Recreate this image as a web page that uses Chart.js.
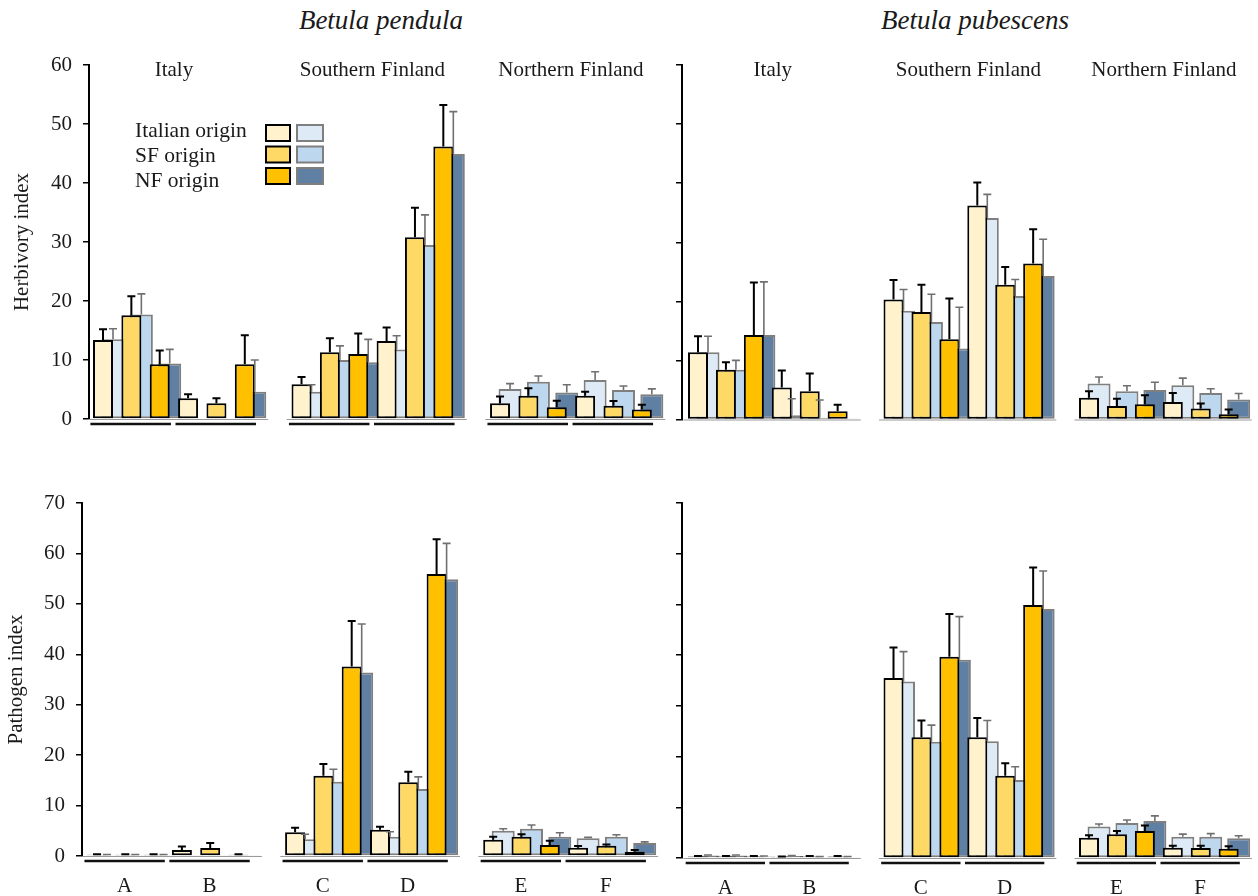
<!DOCTYPE html>
<html>
<head>
<meta charset="utf-8">
<script src="https://cdn.jsdelivr.net/npm/chart.js@4.4.1/dist/chart.umd.min.js"></script>
<style>
  body { margin: 0; background: #fff; }
  #wrap { position: relative; width: 1258px; height: 896px; overflow: hidden;
          font-family: "Liberation Serif", "Times New Roman", serif; color: #1a1a1a; }
  canvas { position: absolute; }
  .title { position: absolute; top: 5px; font-style: italic; font-size: 27px;
           transform: translateX(-50%); white-space: nowrap; }
</style>
</head>
<body>
<div id="wrap">
  <div class="title" style="left:381px">Betula pendula</div>
  <div class="title" style="left:975px">Betula pubescens</div>
  <canvas id="tl"></canvas>
  <canvas id="tr"></canvas>
  <canvas id="bl"></canvas>
  <canvas id="br"></canvas>
</div>
<script>
// categorias
const sites = ['Italy', 'Southern Finland', 'Northern Finland'];
const groups = ['A', 'B', 'C', 'D', 'E', 'F'];
const origins = ['Italian origin', 'SF origin', 'NF origin'];
const yellowFill = ['#FFF2CC', '#FFD966', '#FFC000'];
const blueFill = ['#DEEBF7', '#BDD7EE', '#5F7FA3'];
const herbTicks = [0, 10, 20, 30, 40, 50, 60];
const pathTicks = [0, 10, 20, 30, 40, 50, 60, 70];

// Betula pendula - herbivory (A..F, 3 origins each)
const pendHerbYellow = [13.4, 17.6, 9.3, 3.5, 2.65, 9.3, 5.9, 11.3, 11.0, 13.2, 30.8, 46.2, 2.65, 3.95, 2.0, 3.95, 2.25, 1.6];
const pendHerbYellowSe = [1.8, 3.2, 2.3, 0.7, 0.85, 4.9, 1.2, 2.4, 3.5, 2.3, 5.0, 7.0, 1.15, 1.25, 1.1, 0.65, 0.8, 0.8];
const pendHerbBlue = [13.5, 17.7, 9.4, 0, 0, 4.6, 4.6, 10.0, 9.6, 11.8, 29.5, 44.9, 5.1, 6.3, 4.5, 6.6, 4.9, 4.2];
const pendHerbBlueSe = [1.8, 3.5, 2.4, 0, 0, 5.4, 1.2, 2.4, 3.9, 2.3, 5.1, 7.2, 0.9, 1.0, 1.3, 1.4, 0.7, 0.9];

// Betula pubescens - herbivory
const pubHerbYellow = [11.4, 8.4, 14.3, 5.4, 4.8, 1.4, 20.3, 18.2, 13.6, 36.2, 22.8, 26.4, 3.7, 2.3, 2.6, 2.95, 1.85, 0.9];
const pubHerbYellowSe = [2.7, 1.3, 8.9, 2.9, 3.0, 1.1, 3.3, 4.6, 6.9, 3.9, 3.0, 5.8, 1.1, 1.2, 1.5, 1.55, 0.85, 0.8];
const pubHerbBlue = [11.4, 8.4, 14.3, 0.7, 0.3, 0.1, 18.4, 16.5, 12.0, 34.1, 20.9, 24.3, 6.1, 4.8, 5.0, 5.8, 4.5, 3.4];
const pubHerbBlueSe = [2.7, 1.6, 9.0, 2.8, 3.0, 0, 3.6, 4.7, 7.0, 4.0, 2.8, 6.2, 1.1, 0.9, 1.3, 1.2, 0.7, 1.0];

// Betula pendula - pathogen
const pendPathYellow = [0.25, 0.25, 0.25, 1.2, 1.6, 0.25, 4.7, 15.9, 37.6, 5.2, 14.6, 55.9, 3.2, 3.8, 2.2, 1.65, 2.05, 0.85];
const pendPathYellowSe = [0.1, 0.1, 0.1, 0.7, 1.0, 0.1, 0.9, 2.35, 9.0, 0.6, 2.1, 6.9, 0.6, 0.5, 0.8, 0.35, 0.25, 0.35];
const pendPathBlue = [0.2, 0.2, 0.2, 0.1, 0.1, 0.1, 3.3, 14.7, 36.4, 3.8, 13.3, 54.9, 5.0, 5.4, 3.8, 3.5, 3.8, 2.6];
const pendPathBlueSe = [0.1, 0.1, 0.1, 0, 0, 0, 1.0, 2.5, 9.6, 1.0, 2.4, 7.1, 0.4, 0.75, 0.8, 0.2, 0.4, 0.2];

// Betula pubescens - pathogen
const pubPathYellow = [0.3, 0.3, 0.3, 0.2, 0.3, 0.3, 35.5, 23.8, 39.7, 23.8, 16.2, 49.9, 4.0, 4.7, 5.3, 2.0, 1.95, 1.8];
const pubPathYellowSe = [0.1, 0.1, 0.1, 0.1, 0.1, 0.1, 6.0, 3.3, 8.4, 3.8, 2.5, 7.4, 0.5, 0.6, 1.1, 0.4, 0.45, 0.5];
const pubPathBlue = [0.5, 0.5, 0.3, 0.4, 0.2, 0.2, 34.8, 22.9, 39.1, 23.0, 15.4, 49.1, 6.2, 6.9, 7.3, 4.2, 4.2, 3.9];
const pubPathBlueSe = [0.1, 0.1, 0.1, 0.1, 0.1, 0.1, 5.9, 3.3, 8.5, 4.1, 2.6, 7.5, 0.5, 0.6, 1.0, 0.5, 0.6, 0.5];

Chart.defaults.font.family = '"Liberation Serif", "Times New Roman", serif';
Chart.defaults.font.size = 21;
Chart.defaults.color = '#1a1a1a';

// posición en el eje x: 7 huecos por sitio (6 barras + separación)
function slotOf(i) {
    return Math.floor(i / 6) * 7 + (i % 6);
}

// barras de error (solo hacia arriba)
const errorBars = {
    id: 'errorBars',
    afterDatasetsDraw(chart) {
        const ctx = chart.ctx;
        const y = chart.scales.y;
        chart.data.datasets.forEach((ds, di) => {
            const meta = chart.getDatasetMeta(di);
            meta.data.forEach((bar, i) => {
                const se = ds.errors[i];
                if (!se) return;
                const top = y.getPixelForValue(ds.data[i].y + se);
                ctx.save();
                ctx.strokeStyle = ds.errorColor;
                ctx.lineWidth = ds.errorWidth;
                ctx.beginPath();
                ctx.moveTo(bar.x, bar.y);
                ctx.lineTo(bar.x, top);
                ctx.moveTo(bar.x - 4, top);
                ctx.lineTo(bar.x + 4, top);
                ctx.stroke();
                ctx.restore();
            });
        });
    }
};

// líneas de base, subrayados, etiquetas y leyenda
const deco = {
    id: 'deco',
    beforeDatasetsDraw(chart) {
        const ctx = chart.ctx;
        const x = chart.scales.x;
        const y0 = chart.scales.y.getPixelForValue(0);
        ctx.save();
        ctx.strokeStyle = '#9a9a9a';
        ctx.lineWidth = 1;
        sites.forEach((s, si) => {
            ctx.beginPath();
            ctx.moveTo(x.getPixelForValue(si * 7 - 0.7), y0 + 0.5);
            ctx.lineTo(x.getPixelForValue(si * 7 + 5.65), y0 + 0.5);
            ctx.stroke();
        });
        ctx.restore();
    },
    afterDraw(chart, args, o) {
        const ctx = chart.ctx;
        const x = chart.scales.x;
        const area = chart.chartArea;
        const y0 = chart.scales.y.getPixelForValue(0);
        ctx.save();
        if (o.underline) {
            ctx.strokeStyle = '#111';
            ctx.lineWidth = 2.5;
            groups.forEach((g, gi) => {
                const first = slotOf(gi * 3), last = slotOf(gi * 3 + 2);
                const x1 = x.getPixelForValue(first - 0.62);
                const x2 = x.getPixelForValue(last + 0.22);
                ctx.beginPath();
                ctx.moveTo(x1, y0 + 5);
                ctx.lineTo(x2, y0 + 5);
                ctx.stroke();
                if (o.labels) {
                    ctx.fillStyle = '#1a1a1a';
                    ctx.font = '21px "Liberation Serif", serif';
                    ctx.textAlign = 'center';
                    ctx.textBaseline = 'middle';
                    ctx.fillText(g, (x1 + x2) / 2, y0 + 30);
                }
            });
        }
        if (o.sites) {
            ctx.fillStyle = '#1a1a1a';
            ctx.font = '21px "Liberation Serif", serif';
            ctx.textAlign = 'center';
            ctx.textBaseline = 'middle';
            sites.forEach((s, si) => {
                ctx.fillText(s, x.getPixelForValue(si * 7 + 2.5) + o.siteShift, area.top + 5);
            });
        }
        if (o.legend) {
            ctx.font = '21.5px "Liberation Serif", serif';
            ctx.textAlign = 'left';
            ctx.textBaseline = 'alphabetic';
            origins.forEach((name, oi) => {
                const top = area.top + 60 + oi * 21.5;
                ctx.fillStyle = '#1a1a1a';
                ctx.fillText(name, 135, area.top + 72 + oi * 25);
                ctx.lineWidth = 2;
                ctx.fillStyle = yellowFill[oi];
                ctx.strokeStyle = '#000';
                ctx.fillRect(266, top, 24, 16);
                ctx.strokeRect(266, top, 24, 16);
                ctx.fillStyle = blueFill[oi];
                ctx.strokeStyle = '#7f7f7f';
                ctx.fillRect(297, top, 26, 16);
                ctx.strokeRect(297, top, 26, 16);
            });
        }
        ctx.restore();
    }
};

function makeChart(id, g, p) {
    const canvas = document.getElementById(id);
    canvas.width = g.w;
    canvas.height = g.h;
    canvas.style.left = g.left + 'px';
    canvas.style.top = g.top + 'px';
    const axisW = g.axisX - g.left;
    const right = g.left + g.w - 2;
    const xMin = -(g.c0 - g.axisX) / g.pitch;
    const xMax = (right - g.c0) / g.pitch;

    return new Chart(canvas, {
        type: 'bar',
        data: {
            datasets: [{
                label: 'yellow',
                data: p.yellow.map((v, i) => ({ x: slotOf(i), y: v })),
                errors: p.yellowSe,
                backgroundColor: p.yellow.map((v, i) => yellowFill[i % 3]),
                borderColor: '#000',
                borderWidth: 2,
                barPercentage: 2.0,
                errorColor: '#000',
                errorWidth: 2
            }, {
                label: 'blue',
                data: p.blue.map((v, i) => ({ x: slotOf(i), y: v })),
                errors: p.blueSe,
                backgroundColor: p.blue.map((v, i) => blueFill[i % 3]),
                borderColor: '#7f7f7f',
                borderWidth: 2,
                barPercentage: 2.3,
                errorColor: '#707070',
                errorWidth: 1.6
            }]
        },
        options: {
            responsive: false,
            animation: false,
            layout: { padding: { left: 0, right: 2, top: g.yTop - g.top, bottom: g.top + g.h - g.y0 } },
            datasets: { bar: { categoryPercentage: 20 / g.pitch, borderSkipped: false } },
            plugins: {
                legend: { display: false },
                tooltip: { enabled: false },
                deco: p.deco
            },
            scales: {
                x: {
                    type: 'linear',
                    display: false,
                    offset: false,
                    min: xMin,
                    max: xMax,
                    afterBuildTicks: s => { s.ticks = [{ value: 0 }]; }
                },
                y: {
                    min: 0,
                    max: p.ticks[p.ticks.length - 1],
                    afterBuildTicks: s => { s.ticks = p.ticks.map(v => ({ value: v })); },
                    ticks: {
                        padding: 11,
                        font: { size: 21 },
                        callback: v => p.showLabels ? String(v) : ''
                    },
                    border: { color: '#000', width: 2 },
                    grid: { drawOnChartArea: false, tickLength: 6, color: '#000', lineWidth: 1.5 },
                    title: {
                        display: !!p.title,
                        text: p.title,
                        font: { size: 21 },
                        padding: { top: p.titlePad, bottom: 0 }
                    },
                    afterFit: s => { s.width = axisW; }
                }
            }
        },
        plugins: [errorBars, deco]
    });
}

makeChart('tl', { left: 0, top: 40, w: 672, h: 420, axisX: 89, yTop: 65, y0: 419, c0: 108, pitch: 28.36 }, {
    yellow: pendHerbYellow, yellowSe: pendHerbYellowSe, blue: pendHerbBlue, blueSe: pendHerbBlueSe,
    ticks: herbTicks, showLabels: true, title: 'Herbivory index', titlePad: 10,
    deco: { sites: true, siteShift: -5, underline: true, labels: false, legend: true }
});
makeChart('tr', { left: 672, top: 40, w: 586, h: 420, axisX: 682, yTop: 65, y0: 419.5, c0: 703, pitch: 27.93 }, {
    yellow: pubHerbYellow, yellowSe: pubHerbYellowSe, blue: pubHerbBlue, blueSe: pubHerbBlueSe,
    ticks: herbTicks, showLabels: false, title: '', titlePad: 0,
    deco: { sites: true, siteShift: 0, underline: false, labels: false, legend: false }
});
makeChart('bl', { left: 0, top: 478, w: 672, h: 418, axisX: 82, yTop: 503, y0: 856, c0: 102, pitch: 28.3 }, {
    yellow: pendPathYellow, yellowSe: pendPathYellowSe, blue: pendPathBlue, blueSe: pendPathBlueSe,
    ticks: pathTicks, showLabels: true, title: 'Pathogen index', titlePad: 4,
    deco: { sites: false, siteShift: 0, underline: true, labels: true, legend: false }
});
makeChart('br', { left: 672, top: 478, w: 586, h: 418, axisX: 682, yTop: 503, y0: 858, c0: 703, pitch: 27.93 }, {
    yellow: pubPathYellow, yellowSe: pubPathYellowSe, blue: pubPathBlue, blueSe: pubPathBlueSe,
    ticks: pathTicks, showLabels: false, title: '', titlePad: 0,
    deco: { sites: false, siteShift: 0, underline: true, labels: true, legend: false }
});
</script>
</body>
</html>
